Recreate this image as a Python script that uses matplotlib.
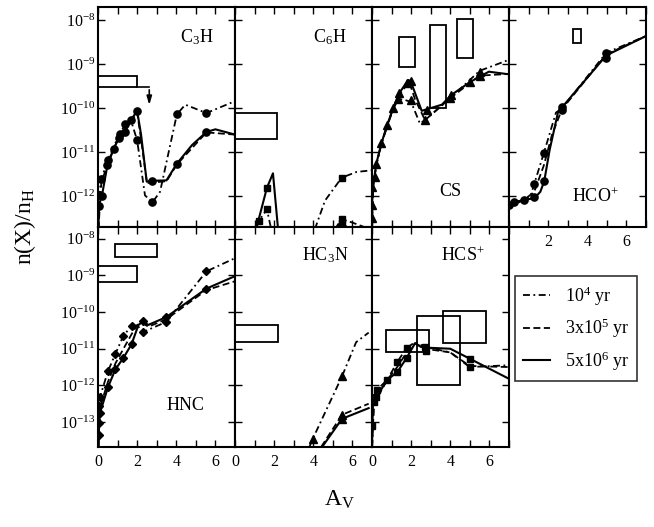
import matplotlib
matplotlib.use('Agg')
import matplotlib.pyplot as plt
from matplotlib.patches import Rectangle
from matplotlib.ticker import MultipleLocator, FixedLocator, NullLocator, LogFormatterMathtext, NullFormatter

plt.rcParams['font.family'] = ['Liberation Serif', 'DejaVu Serif']
plt.rcParams['mathtext.fontset'] = 'stix'
plt.rcParams['lines.scale_dashes'] = False

# values are (A_V, log10 n(X)/n_H)
# ---- C3H
c3h_dashdot = [(0.02, -12.75), (0.05, -12.0), (0.17, -11.61), (0.5, -11.18), (1.1, -10.58), (1.4, -10.36),
               (1.7, -10.3), (2.0, -10.73), (2.4, -11.98), (2.78, -12.14), (3.17, -11.9), (4.03, -10.14),
               (4.46, -9.92), (5.54, -10.11), (7.0, -9.84)]
c3h_dashed = [(0.02, -12.75), (0.17, -11.7), (0.5, -11.25), (1.1, -10.62), (1.7, -10.3), (2.0, -10.1),
              (2.2, -10.7), (2.5, -11.7), (3.5, -11.66), (4.03, -11.28), (5.54, -10.55), (7.0, -10.6)]
c3h_solid = [(0.02, -12.75), (0.05, -12.2), (0.2, -11.99), (0.48, -11.3), (0.8, -10.92), (1.08, -10.67),
             (1.37, -10.55), (1.68, -10.27), (2.0, -10.06), (2.2, -10.6), (2.49, -11.67), (2.74, -11.65),
             (3.5, -11.64), (4.03, -11.26), (4.8, -10.84), (5.54, -10.54), (6.0, -10.48), (7.0, -10.6)]
c3h_points = [(0.03, -12.22), (0.03, -11.98), (0.2, -11.99), (0.17, -11.61), (0.48, -11.3), (0.5, -11.18),
              (0.8, -10.92), (1.08, -10.67), (1.1, -10.58), (1.37, -10.55), (1.4, -10.36), (1.68, -10.27),
              (2.0, -10.06), (2.0, -10.73), (2.74, -11.65), (2.78, -12.14), (4.03, -10.14), (4.03, -11.26),
              (5.54, -10.11), (5.54, -10.54)]
c3h_boxes = [(0.0, 2.0, -9.52, -9.27)]

# ---- C6H
c6h_dashdot = [(1.1, -12.7), (1.22, -12.56), (1.63, -12.3), (1.85, -12.75), (None, None),
               (4.08, -12.75), (4.6, -12.1), (5.45, -11.58), (6.2, -11.45), (7.0, -11.41)]
c6h_dashed = [(5.1, -12.75), (5.45, -12.52), (6.0, -12.6), (6.9, -12.75)]
c6h_solid = [(1.08, -12.75), (1.63, -11.81), (1.94, -11.48), (2.2, -12.75), (None, None),
             (5.1, -12.75), (5.45, -12.58), (5.8, -12.75)]
c6h_points = [(1.22, -12.56), (1.63, -12.3), (1.63, -11.81), (5.45, -11.58), (5.45, -12.52), (5.45, -12.6)]
c6h_boxes = [(0.0, 2.13, -10.71, -10.1)]

# ---- CS
cs_dashdot = [(0.0, -12.75), (0.05, -11.8), (0.22, -11.3), (0.48, -10.82), (0.77, -10.42), (1.08, -10.02),
              (1.34, -9.8), (1.6, -9.8), (2.0, -9.86), (2.45, -10.35), (2.71, -10.27), (4.0, -9.77),
              (5.5, -9.15), (7.0, -8.9)]
cs_dashed = [(0.0, -12.75), (0.05, -11.8), (0.22, -11.28), (0.48, -10.8), (0.77, -10.4), (1.08, -10.0),
             (1.39, -9.7), (1.9, -9.4), (2.2, -9.8), (2.71, -10.27), (4.0, -9.77), (5.5, -9.26), (7.0, -9.22)]
cs_solid = [(0.0, -12.75), (0.0, -12.2), (0.05, -11.8), (0.22, -11.26), (0.48, -10.8), (0.77, -10.39),
            (1.08, -10.0), (1.39, -9.66), (1.85, -9.36), (1.97, -9.38), (2.54, -10.06), (3.57, -9.92),
            (4.05, -9.7), (5.03, -9.4), (5.97, -9.17), (7.0, -9.23)]
cs_points = [(0.0, -12.5), (0.0, -12.2), (0.02, -11.8), (0.14, -11.56), (0.22, -11.26), (0.48, -10.8),
             (0.77, -10.39), (1.08, -10.0), (1.34, -9.8), (1.39, -9.66), (1.77, -9.42), (1.97, -9.38),
             (1.99, -9.81), (2.71, -10.27), (2.8, -10.04), (4.0, -9.77), (4.05, -9.7), (5.03, -9.4),
             (5.5, -9.17), (5.5, -9.26)]
cs_boxes = [(1.39, 2.18, -9.06, -8.38), (2.98, 3.79, -10.0, -8.11), (4.36, 5.15, -8.86, -7.98)]

# ---- HCO+
hco_dashdot = [(0.0, -12.25), (0.27, -12.14), (0.78, -12.08), (1.1, -12.0), (1.29, -11.72), (1.78, -11.02),
               (2.4, -10.1), (2.71, -10.0), (4.97, -8.74), (7.0, -8.36)]
hco_dashed = [(0.0, -12.25), (0.78, -12.08), (1.29, -11.9), (1.78, -11.3), (2.2, -10.6), (2.71, -10.02),
              (4.97, -8.78), (7.0, -8.36)]
hco_solid = [(0.0, -12.27), (0.27, -12.14), (0.78, -12.08), (1.29, -12.05), (1.6, -11.9), (1.8, -11.66),
             (2.08, -10.94), (2.5, -10.1), (2.71, -9.98), (4.97, -8.8), (7.0, -8.36)]
hco_points = [(0.0, -12.21), (0.27, -12.14), (0.78, -12.08), (1.29, -11.72), (1.29, -12.02), (1.78, -11.02),
              (1.78, -11.66), (2.71, -9.98), (2.71, -10.04), (4.97, -8.74), (4.97, -8.85)]
hco_boxes = [(3.27, 3.69, -8.51, -8.2)]

# ---- HNC
hnc_dashdot = [(0.02, -13.68), (0.07, -12.57), (0.1, -12.32), (0.51, -11.61), (0.89, -11.14), (1.3, -10.64),
               (1.72, -10.38), (2.0, -10.35), (2.28, -10.55), (3.48, -10.27), (5.54, -8.89), (7.0, -8.53)]
hnc_dashed = [(0.02, -13.68), (0.1, -12.6), (0.51, -11.9), (0.89, -11.4), (1.3, -11.0), (1.72, -10.6),
              (2.0, -10.35), (2.28, -10.3), (2.57, -10.4), (3.48, -10.2), (5.54, -9.4), (7.0, -9.16)]
hnc_solid = [(0.02, -13.68), (0.03, -13.35), (0.1, -12.75), (0.51, -12.05), (0.89, -11.56), (1.3, -11.25),
             (1.72, -10.87), (2.06, -10.36), (2.28, -10.25), (2.57, -10.35), (3.48, -10.14), (5.54, -9.36),
             (7.0, -9.02)]
hnc_points = [(0.03, -13.35), (0.03, -13.02), (0.1, -12.75), (0.07, -12.57), (0.1, -12.32), (0.51, -12.05),
              (0.51, -11.61), (0.89, -11.56), (0.89, -11.14), (1.3, -11.25), (1.3, -10.64), (1.72, -10.87),
              (1.72, -10.38), (2.28, -10.25), (2.28, -10.55), (3.48, -10.14), (3.48, -10.27), (5.54, -9.36),
              (5.54, -8.89)]
hnc_boxes = [(0.89, 3.0, -8.5, -8.15), (0.0, 2.0, -9.18, -8.73)]

# ---- HC3N
hc3n_dashdot = [(3.8, -13.68), (3.98, -13.45), (5.47, -11.75), (6.19, -10.82), (6.83, -10.56)]
hc3n_dashed = [(4.4, -13.68), (5.47, -12.8), (6.83, -12.5)]
hc3n_solid = [(4.45, -13.68), (5.47, -12.91), (6.83, -12.62)]
hc3n_points = [(3.98, -13.45), (5.47, -11.75), (5.47, -12.8), (5.47, -12.91)]
hc3n_boxes = [(0.0, 2.2, -10.82, -10.35)]

# ---- HCS+
hcs_dashdot = [(0.0, -13.68), (0.1, -12.45), (0.26, -12.12), (0.79, -11.84), (1.29, -11.36), (1.77, -10.98),
               (2.2, -10.82), (2.71, -10.95), (4.0, -11.1), (4.99, -11.5), (7.0, -11.45)]
hcs_dashed = [(0.0, -13.68), (0.1, -12.5), (0.79, -11.84), (1.29, -11.5), (1.77, -11.1), (2.2, -10.85),
              (2.71, -11.0), (4.0, -11.1), (4.99, -11.47), (7.0, -11.5)]
hcs_solid = [(0.0, -13.68), (0.05, -12.45), (0.22, -12.32), (0.79, -11.84), (1.29, -11.64), (1.77, -11.25),
             (2.2, -10.85), (2.5, -10.95), (2.76, -10.97), (4.0, -11.0), (4.99, -11.27), (7.0, -11.82)]
hcs_points = [(0.0, -13.12), (0.1, -12.45), (0.22, -12.32), (0.26, -12.12), (0.79, -11.84), (1.29, -11.64),
              (1.29, -11.36), (1.77, -11.25), (1.77, -10.98), (2.71, -10.95), (2.76, -11.06), (4.99, -11.27),
              (4.99, -11.5)]
hcs_boxes = [(0.69, 2.9, -11.09, -10.48), (2.28, 4.48, -11.99, -10.1), (3.64, 5.85, -10.85, -9.96)]

legend_labels = ['10$^\\mathregular{4}$ yr', '3x10$^\\mathregular{5}$ yr', '5x10$^\\mathregular{6}$ yr']
top_decades = [-8, -9, -10, -11, -12]
bottom_decades = [-8, -9, -10, -11, -12, -13]

panels = [
    # row, col, label, label x, label y, marker, size, dashdot, dashed, solid, points, boxes
    (0, 0, 'C$_\\mathregular{3}$H', 0.72, 0.86, 'o', 5.2, c3h_dashdot, c3h_dashed, c3h_solid, c3h_points, c3h_boxes),
    (0, 1, 'C$_\\mathregular{6}$H', 0.69, 0.86, 's', 4.3, c6h_dashdot, c6h_dashed, c6h_solid, c6h_points, c6h_boxes),
    (0, 2, 'CS', 0.57, 0.16, '^', 5.2, cs_dashdot, cs_dashed, cs_solid, cs_points, cs_boxes),
    (0, 3, 'HCO$^\\mathregular{+}$', 0.63, 0.14, 'o', 5.2, hco_dashdot, hco_dashed, hco_solid, hco_points, hco_boxes),
    (1, 0, 'HNC', 0.64, 0.19, 'D', 4.0, hnc_dashdot, hnc_dashed, hnc_solid, hnc_points, hnc_boxes),
    (1, 1, 'HC$_\\mathregular{3}$N', 0.66, 0.87, '^', 5.2, hc3n_dashdot, hc3n_dashed, hc3n_solid, hc3n_points, hc3n_boxes),
    (1, 2, 'HCS$^\\mathregular{+}$', 0.66, 0.87, 's', 4.3, hcs_dashdot, hcs_dashed, hcs_solid, hcs_points, hcs_boxes),
]

W, H = 654, 527
fig = plt.figure(figsize=(W / 100, H / 100), dpi=100)
col_left = [98, 235, 372, 509]
row_top = [7, 227]
pw, ph = 137, 220
ylims = [(10 ** -12.70, 10 ** -7.70), (10 ** -13.68, 10 ** -7.68)]
decades = [top_decades, bottom_decades]

dashdot_style = dict(color='k', lw=1.3, dashes=(5, 2.5, 1.3, 2.5))
dashed_style = dict(color='k', lw=1.3, dashes=(5, 2.5))
solid_style = dict(color='k', lw=1.5)


def split(pts):
    xs = [p[0] if p[0] is not None else float('nan') for p in pts]
    ys = [10 ** p[1] if p[1] is not None else float('nan') for p in pts]
    return xs, ys


handles = None
for row, col, label, lx, ly, mk, ms, dd, da, so, pts, boxes in panels:
    ax = fig.add_axes([col_left[col] / W, 1 - (row_top[row] + ph) / H, pw / W, ph / H])
    ax.set_yscale('log')
    ax.set_xlim(0, 7)
    ax.set_ylim(*ylims[row])
    h1, = ax.plot(*split(dd), **dashdot_style)
    h2, = ax.plot(*split(da), **dashed_style)
    h3, = ax.plot(*split(so), **solid_style)
    if handles is None:
        handles = [h1, h2, h3]
    px, py = split(pts)
    ax.plot(px, py, ls='none', marker=mk, ms=ms, color='k')
    for a0, a1, lo, hi in boxes:
        ax.add_patch(Rectangle((a0, 10 ** lo), a1 - a0, 10 ** hi - 10 ** lo,
                               fill=False, ec='k', lw=1.3))
    ax.text(lx, ly, label, transform=ax.transAxes, ha='center', va='center', fontsize=13)

    ax.xaxis.set_major_locator(MultipleLocator(2))
    ax.xaxis.set_minor_locator(MultipleLocator(1))
    ax.yaxis.set_major_locator(FixedLocator([10.0 ** d for d in decades[row]]))
    ax.yaxis.set_minor_locator(NullLocator())
    ax.tick_params(which='both', direction='in', top=True, right=True, labelsize=11.5, width=1)
    ax.tick_params(which='major', length=5)
    ax.tick_params(which='minor', length=5)
    ax.tick_params(axis='y', pad=2)
    ax.tick_params(axis='x', pad=5)
    for s in ax.spines.values():
        s.set_linewidth(1.5)

    if col == 0:
        ax.yaxis.set_major_formatter(LogFormatterMathtext())
    else:
        ax.yaxis.set_major_formatter(NullFormatter())
    if row == 1:
        ax.set_xticks([0, 2, 4, 6])
    elif col == 3:
        ax.set_xticks([2, 4, 6])
    else:
        ax.tick_params(axis='x', labelbottom=False)

    if label.startswith('C$_\\mathregular{3}$'):
        # upper limit arrow from the observation box
        ax.plot([2.0, 2.62], [10 ** -9.52, 10 ** -9.52], color='k', lw=1.2)
        ax.annotate('', xy=(2.62, 10 ** -9.99), xytext=(2.62, 10 ** -9.52),
                    arrowprops=dict(arrowstyle='-|>,head_length=0.5,head_width=0.15', color='k', lw=1.2))

leg = fig.legend(handles, legend_labels, loc='upper left', bbox_to_anchor=(515 / W, 1 - 276 / H),
                 borderaxespad=0, fontsize=13, frameon=True, fancybox=False, edgecolor='k',
                 handlelength=1.5, borderpad=0.45, labelspacing=0.5, handletextpad=0.8)
leg.get_frame().set_linewidth(1.2)

fig.text(25 / W, 1 - 227 / H, 'n(X)/n$_\\mathregular{H}$', rotation=90, ha='center', va='center', fontsize=17)
fig.text(340 / W, 1 - 500 / H, 'A$_\\mathregular{V}$', ha='center', va='center', fontsize=17)

fig.savefig('out.png', dpi=100)
